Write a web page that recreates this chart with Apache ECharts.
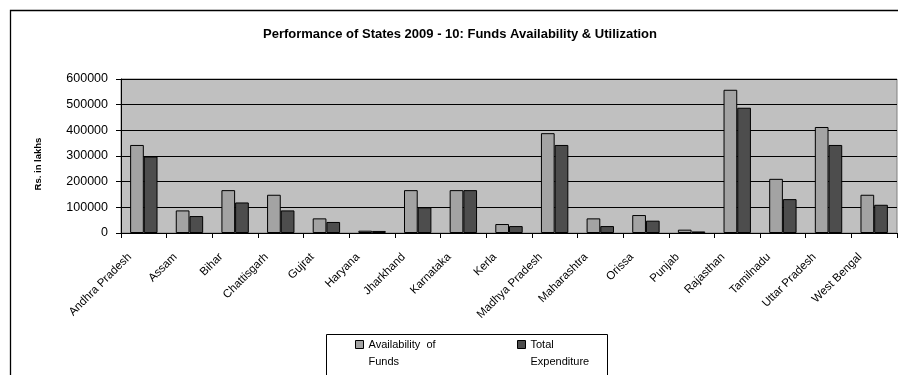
<!DOCTYPE html>
<html>
<head>
<meta charset="utf-8">
<script src="https://cdn.jsdelivr.net/npm/echarts@6/dist/echarts.min.js"></script>
<style>
  html, body { margin: 0; padding: 0; background: #fff; }
  #chart { width: 898px; height: 375px; }
</style>
</head>
<body>
<div id="chart"></div>
<script>
// States and their 2009-10 figures (Rs. in lakhs)
const states = ['Andhra Pradesh', 'Assam', 'Bihar', 'Chattisgarh', 'Gujrat', 'Haryana', 'Jharkhand',
  'Karnataka', 'Kerla', 'Madhya Pradesh', 'Maharashtra', 'Orissa', 'Punjab', 'Rajasthan',
  'Tamilnadu', 'Uttar Pradesh', 'West Bengal'];
const fundsAvailable = [343000, 88000, 167000, 149000, 57000, 9000, 167000, 167000, 35000,
  389000, 57000, 70000, 13000, 558000, 211000, 413000, 149000];
const totalExpenditure = [298000, 66000, 119000, 88000, 43000, 8000, 100000, 167000, 27000,
  343000, 27000, 48000, 6000, 488000, 132000, 343000, 110000];
const yTicks = { min: 0, max: 600000, step: 100000 };
const seriesNames = ['Availability of Funds', 'Total Expenditure'];
// legend captions wrap onto two lines; the leading empty line keeps the
// first caption line level with the swatch
const legendLabels = {
  'Availability of Funds': '\nAvailability  of\nFunds',
  'Total Expenditure': '\nTotal\nExpenditure'
};

const FONT = 'Liberation Sans, Arial, sans-serif';
const chart = echarts.init(document.getElementById('chart'), null, { renderer: 'canvas' });

const legendCommon = {
  orient: 'horizontal',
  padding: 0,
  itemWidth: 8,
  itemHeight: 8,
  icon: 'rect',
  itemStyle: { borderColor: '#000', borderWidth: 1 },
  textStyle: { fontFamily: FONT, fontSize: 11, color: '#000', lineHeight: 17 },
  formatter: n => legendLabels[n],
  selectedMode: false
};

chart.setOption({
  animation: false,
  backgroundColor: '#fff',
  title: {
    text: 'Performance of States 2009 - 10: Funds Availability & Utilization',
    left: 258, top: 23,
    textStyle: { fontFamily: FONT, fontSize: 13, fontWeight: 'bold', color: '#000' }
  },
  graphic: [
    // outer chart frame
    { type: 'rect', z: 0, shape: { x: 10.5, y: 10.5, width: 1000, height: 1000 },
      style: { fill: null, stroke: '#000', lineWidth: 1.3 } },
    // legend frame
    { type: 'rect', z: 0, shape: { x: 326.5, y: 334.5, width: 281, height: 80 },
      style: { fill: null, stroke: '#000', lineWidth: 1 } }
  ],
  legend: [
    Object.assign({}, legendCommon, { data: [seriesNames[0]], left: 355, top: 319 }),
    Object.assign({}, legendCommon, { data: [seriesNames[1]], left: 517, top: 319 })
  ],
  grid: {
    left: 121, right: 1, top: 79, bottom: 142,
    show: true, backgroundColor: '#c0c0c0', borderColor: '#808080', borderWidth: 1
  },
  xAxis: {
    type: 'category',
    data: states,
    boundaryGap: true,
    axisLine: { lineStyle: { color: '#000', width: 1 } },
    axisTick: { show: true, interval: 0, length: 5, lineStyle: { color: '#000' } },
    axisLabel: {
      interval: 0, rotate: 45, margin: 8,
      fontFamily: FONT, fontSize: 11.5, color: '#000',
      padding: [0, 20, 0, 0]
    },
    splitLine: { show: false }
  },
  yAxis: {
    type: 'value',
    min: yTicks.min, max: yTicks.max, interval: yTicks.step,
    name: 'Rs. in lakhs',
    nameLocation: 'middle',
    nameRotate: 90,
    nameGap: 78,
    nameTextStyle: { fontFamily: FONT, fontSize: 9.5, fontWeight: 'bold', color: '#000', padding: [0, 16, 0, 0] },
    axisLine: { show: true, lineStyle: { color: '#000', width: 1 } },
    axisTick: { show: true, length: 5, lineStyle: { color: '#000' } },
    axisLabel: { fontFamily: FONT, fontSize: 12.5, color: '#000', margin: 13, formatter: v => String(v) },
    splitLine: { show: true, lineStyle: { color: '#000', width: 1 } }
  },
  series: [
    {
      name: seriesNames[0], type: 'bar', data: fundsAvailable,
      barGap: '0%', barCategoryGap: '40%',
      itemStyle: { color: '#a3a3a3', borderColor: '#000', borderWidth: 1 }
    },
    {
      name: seriesNames[1], type: 'bar', data: totalExpenditure,
      barGap: '0%', barCategoryGap: '40%',
      itemStyle: { color: '#4d4d4d', borderColor: '#000', borderWidth: 1 }
    }
  ]
});
</script>
</body>
</html>
